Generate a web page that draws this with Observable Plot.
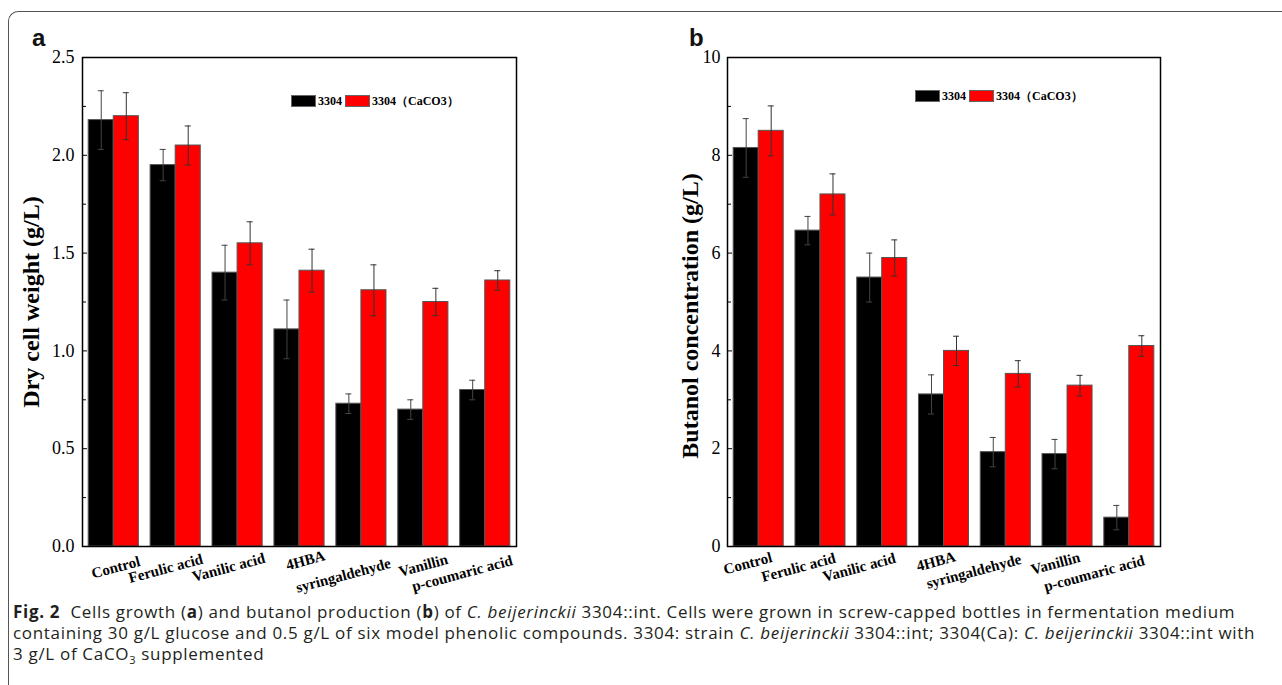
<!DOCTYPE html>
<html>
<head>
<meta charset="utf-8">
<script src="https://cdn.jsdelivr.net/npm/d3@7"></script>
<script src="https://cdn.jsdelivr.net/npm/@observablehq/plot@0.6"></script>
<style>
  html, body { margin: 0; padding: 0; background: #fff; }
  #root { position: relative; width: 1282px; height: 685px; overflow: hidden; background: #fff; }
  .box { position: absolute; left: 8px; top: 11px; width: 1300px; height: 700px;
         border-top: 1.5px solid #555; border-left: 1.5px solid #555; border-top-left-radius: 10px; }
  .panel { position: absolute; top: 0; }
  .plab { position: absolute; font-family: "Liberation Sans", Arial, sans-serif; font-weight: bold;
          font-size: 24px; line-height: 24px; color: #111; }
  .sw { position: absolute; width: 25px; height: 12px; box-sizing: border-box; border: 1px solid #666; }
  .lt { position: absolute; font-family: "Liberation Serif", serif; font-weight: bold; font-size: 12px;
        line-height: 12px; color: #000; white-space: nowrap; }
  .cap { position: absolute; left: 13px; top: 601px; font-family: "Open Sans", "Lato", sans-serif;
         font-size: 17px; letter-spacing: 0.68px; line-height: 21px; color: #231f20; white-space: nowrap; }
  .cap sub { font-size: 11px; line-height: 0; }
</style>
</head>
<body>
<div id="root">
  <div class="box"></div>
  <div id="pa" class="panel" style="left:0px"></div>
  <div id="pb" class="panel" style="left:640px"></div>
  <div class="plab" style="left:32px; top:26px">a</div>
  <div class="plab" style="left:689px; top:26px">b</div>
  <div id="legA"></div>
  <div id="legB"></div>
  <div class="cap">
    <b>Fig. 2</b>&nbsp; Cells growth (<b>a</b>) and butanol production (<b>b</b>) of <i>C. beijerinckii</i> 3304::int. Cells were grown in screw-capped bottles in fermentation medium<br>
    containing 30 g/L glucose and 0.5 g/L of six model phenolic compounds. 3304: strain <i>C. beijerinckii</i> 3304::int; 3304(Ca): <i>C. beijerinckii</i> 3304::int with<br>
    3 g/L of CaCO<sub>3</sub> supplemented
  </div>
</div>
<script>
// ---------------- data ----------------
const categories = ["Control", "Ferulic acid", "Vanilic acid", "4HBA", "syringaldehyde", "Vanillin", "p-coumaric acid"];
const seriesNames = ["3304", "3304\uFF08CaCO3\uFF09"];
const seriesColors = ["#000000", "#ff0000"];

// Panel a: dry cell weight (g/L)
const dcw3304    = [2.18, 1.95, 1.40, 1.11, 0.73, 0.70, 0.80];
const dcw3304Err = [0.15, 0.08, 0.14, 0.15, 0.05, 0.05, 0.05];
const dcwCa      = [2.20, 2.05, 1.55, 1.41, 1.31, 1.25, 1.36];
const dcwCaErr   = [0.12, 0.10, 0.11, 0.11, 0.13, 0.07, 0.05];
const dcwTicks      = [0, 0.5, 1.0, 1.5, 2.0, 2.5];
const dcwMinorTicks = [0.25, 0.75, 1.25, 1.75, 2.25];

// Panel b: butanol concentration (g/L)
const but3304    = [8.15, 6.46, 5.50, 3.11, 1.93, 1.89, 0.59];
const but3304Err = [0.60, 0.29, 0.50, 0.40, 0.30, 0.30, 0.25];
const butCa      = [8.50, 7.20, 5.90, 4.00, 3.53, 3.29, 4.10];
const butCaErr   = [0.51, 0.42, 0.37, 0.30, 0.27, 0.21, 0.21];
const butTicks      = [0, 2, 4, 6, 8, 10];
const butMinorTicks = [1, 3, 5, 7, 9];

// ---------------- layout (not data) ----------------
const labelOffsetsA = [[2, 21], [-10, 22], [-9, 21], [6, 14], [-18, 29], [0, 19], [-23, 27]];
const labelOffsetsB = [[-11, 17], [-22, 21], [-23, 21], [-8, 15], [-32, 25], [-12, 17], [-35, 27]];

function panel(cfg) {
  const {width, ml, mr, yMax, majors, minors, fmt, s1, e1, s2, e2, yTitle, titleDx, titleDy, tickPad, offsets} = cfg;
  const mt = 57, mb = 54, height = 600;
  const W = width - ml - mr;
  const pi = 0.19, po = 0.1;
  const step = W / (categories.length - pi + 2 * po);
  const bw = step * (1 - pi);
  const cap = 3;
  const rows = categories.map((c, i) => ({cat: c, a: s1[i], ae: e1[i], b: s2[i], be: e2[i]}));
  const serif = "Liberation Serif";
  const marks = [
    Plot.barY(rows, {x: "cat", y: "a", fill: seriesColors[0], stroke: "#555", strokeWidth: 1, insetRight: bw / 2}),
    Plot.barY(rows, {x: "cat", y: "b", fill: seriesColors[1], stroke: "#555", strokeWidth: 1, insetLeft: bw / 2}),
    Plot.ruleX(rows, {x: "cat", y1: d => d.a - d.ae, y2: d => d.a + d.ae, dx: -bw / 4, stroke: "#444", strokeWidth: 1}),
    Plot.ruleX(rows, {x: "cat", y1: d => d.b - d.be, y2: d => d.b + d.be, dx: bw / 4, stroke: "#333", strokeWidth: 1}),
    Plot.tickY(rows, {x: "cat", y: d => d.a + d.ae, insetLeft: bw / 4 - cap, insetRight: 3 * bw / 4 - cap, stroke: "#444"}),
    Plot.tickY(rows, {x: "cat", y: d => d.a - d.ae, insetLeft: bw / 4 - cap, insetRight: 3 * bw / 4 - cap, stroke: "#444"}),
    Plot.tickY(rows, {x: "cat", y: d => d.b + d.be, insetLeft: 3 * bw / 4 - cap, insetRight: bw / 4 - cap, stroke: "#333"}),
    Plot.tickY(rows, {x: "cat", y: d => d.b - d.be, insetLeft: 3 * bw / 4 - cap, insetRight: bw / 4 - cap, stroke: "#333"}),
    Plot.tickY(majors, {y: d => d, insetRight: W - 5, stroke: "#000"}),
    Plot.tickY(minors, {y: d => d, insetRight: W - 4, stroke: "#000"}),
    Plot.frame({stroke: "#000", strokeWidth: 1.5}),
    Plot.text(majors, {y: d => d, text: d => fmt(d), frameAnchor: "left", dx: -tickPad, textAnchor: "end",
      lineAnchor: "middle", fontSize: 18, fontFamily: serif, fill: "#000"}),
    Plot.text([yTitle], {text: d => d, frameAnchor: "left", rotate: -90, dx: titleDx, dy: titleDy,
      textAnchor: "middle", lineAnchor: "middle", fontSize: 24, fontWeight: "bold", fontFamily: serif, fill: "#000"})
  ];
  categories.forEach((c, i) => {
    marks.push(Plot.text([c], {x: d => d, text: d => d, frameAnchor: "bottom", rotate: -15,
      textAnchor: "middle", lineAnchor: "middle", dx: offsets[i][0], dy: offsets[i][1],
      fontSize: 15, fontWeight: "bold", fontFamily: serif, fill: "#000"}));
  });
  return Plot.plot({
    width, height, marginLeft: ml, marginRight: mr, marginTop: mt, marginBottom: mb,
    x: {domain: categories, paddingInner: pi, paddingOuter: po, round: false, axis: null},
    y: {domain: [0, yMax], axis: null},
    style: {fontFamily: serif, color: "#000", background: "transparent", overflow: "visible"},
    marks
  });
}

document.getElementById("pa").appendChild(panel({
  width: 640, ml: 82, mr: 124, yMax: 2.5, majors: dcwTicks, minors: dcwMinorTicks, fmt: d3.format(".1f"),
  s1: dcw3304, e1: dcw3304Err, s2: dcwCa, e2: dcwCaErr, yTitle: "Dry cell weight (g/L)", titleDx: -51, titleDy: 0,
  tickPad: 8, offsets: labelOffsetsA
}));
document.getElementById("pb").appendChild(panel({
  width: 642, ml: 87, mr: 122, yMax: 10, majors: butTicks, minors: butMinorTicks, fmt: d3.format("d"),
  s1: but3304, e1: but3304Err, s2: butCa, e2: butCaErr, yTitle: "Butanol concentration (g/L)", titleDx: -37, titleDy: 14,
  tickPad: 7, offsets: labelOffsetsB
}));

function legend(id, x0, y0) {
  const el = document.getElementById(id);
  const parts = [[x0, seriesColors[0], seriesNames[0]], [x0 + 54, seriesColors[1], seriesNames[1]]];
  parts.forEach(([x, col, name]) => {
    const s = document.createElement("div");
    s.className = "sw"; s.style.left = x + "px"; s.style.top = y0 + "px"; s.style.background = col;
    el.appendChild(s);
    const t = document.createElement("div");
    t.className = "lt"; t.style.left = (x + 27) + "px"; t.style.top = y0 + "px"; t.textContent = name;
    el.appendChild(t);
  });
}
legend("legA", 291, 95);
legend("legB", 915, 90);
</script>
</body>
</html>
